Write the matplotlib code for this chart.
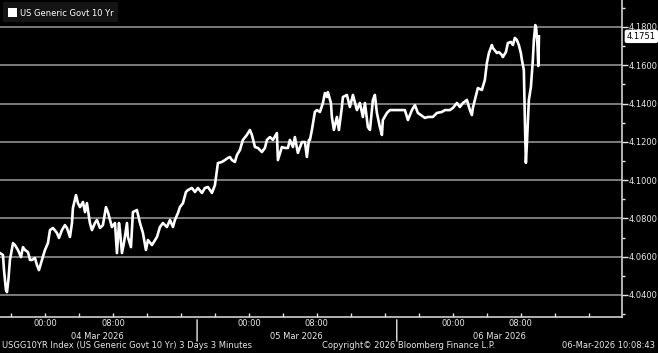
import matplotlib.pyplot as plt
import numpy as np

# hours from 04 Mar 2026 00:00, and yield (%)
hours = [-5.29, -4.94, -4.82, -4.59, -4.47, -4.30, -4.12, -3.76, -3.53, -3.18, -2.82, -2.59, -2.35,
         -2.00, -1.76, -1.53, -1.18, -0.94, -0.71, -0.35, 0.00, 0.35, 0.59, 0.94, 1.41, 1.65, 2.00,
         2.35, 2.59, 2.94, 3.18, 3.29, 3.65, 3.88, 4.12, 4.47, 4.71, 4.94, 5.29, 5.53, 5.88, 6.12,
         6.47, 6.82, 7.18, 7.41, 7.88, 8.24, 8.47, 8.71, 8.82, 9.06, 9.29, 9.65, 9.76, 10.12, 10.35,
         10.82, 11.18, 11.53, 11.88, 12.12, 12.59, 12.82, 13.18, 13.53, 13.88, 14.35, 14.71, 15.06,
         15.29, 15.65, 15.88, 16.24, 16.59, 16.82, 17.29, 17.65, 18.00, 18.47, 18.82, 19.18, 19.65,
         20.00, 20.24, 20.35, 20.82, 21.18, 21.53, 21.76, 22.00, 22.35, 22.59, 22.94, 23.29, 23.76,
         24.12, 24.35, 24.71, 25.06, 25.53, 25.88, 26.12, 26.47, 26.82, 27.29, 27.41, 27.88, 28.24,
         28.59, 28.82, 29.18, 29.41, 29.76, 30.24, 30.59, 30.82, 31.06, 31.18, 31.41, 31.76, 32.00,
         32.35, 32.71, 32.94, 33.18, 33.29, 33.65, 33.76, 34.00, 34.35, 34.59, 34.94, 35.06, 35.53,
         35.88, 36.24, 36.71, 37.06, 37.41, 37.65, 38.00, 38.24, 38.59, 38.82, 39.06, 39.41, 39.65,
         39.76, 40.24, 40.59, 40.94, 41.76, 42.35, 42.71, 43.18, 43.53, 43.88, 44.71, 45.06, 45.65,
         46.12, 46.71, 47.06, 47.65, 48.00, 48.47, 48.82, 49.18, 49.65, 50.00, 50.24, 50.35, 50.59,
         50.94, 51.41, 51.76, 52.00, 52.24, 52.59, 52.71, 53.18, 53.41, 53.76, 53.88, 54.24, 54.47,
         54.82, 55.06, 55.29, 55.53, 55.76, 56.00, 56.12, 56.35, 56.47, 56.59, 56.71, 56.94, 57.18,
         57.41, 57.53, 57.70, 57.80, 57.95, 58.05, 58.13]
yld = [4.0619, 4.0609, 4.0530, 4.0426, 4.0415, 4.0480, 4.0583, 4.0671, 4.0661, 4.0635, 4.0598, 4.0650, 4.0635,
       4.0624, 4.0583, 4.0583, 4.0593, 4.0556, 4.0530, 4.0583, 4.0635, 4.0671, 4.0739, 4.0750, 4.0724, 4.0698, 4.0739,
       4.0765, 4.0750, 4.0703, 4.0776, 4.0854, 4.0922, 4.0880, 4.0859, 4.0886, 4.0833, 4.0880, 4.0776, 4.0739, 4.0776, 4.0792,
       4.0750, 4.0765, 4.0859, 4.0833, 4.0755, 4.0776, 4.0619, 4.0776, 4.0739, 4.0619, 4.0671, 4.0776, 4.0703, 4.0650, 4.0833,
       4.0844, 4.0776, 4.0724, 4.0635, 4.0687, 4.0661, 4.0677, 4.0703, 4.0755, 4.0776, 4.0755, 4.0792, 4.0755,
       4.0792, 4.0828, 4.0859, 4.0880, 4.0938, 4.0948, 4.0959, 4.0938, 4.0959, 4.0933, 4.0959, 4.0964, 4.0933,
       4.0974, 4.1053, 4.1089, 4.1095, 4.1105, 4.1116, 4.1121, 4.1105, 4.1095, 4.1131, 4.1157, 4.1210, 4.1236,
       4.1262, 4.1236, 4.1173, 4.1168, 4.1147, 4.1168, 4.1210, 4.1225, 4.1210, 4.1246, 4.1105, 4.1173, 4.1168,
       4.1168, 4.1210, 4.1173, 4.1225, 4.1142, 4.1199, 4.1199, 4.1121, 4.1210, 4.1210, 4.1262, 4.1356, 4.1366,
       4.1356, 4.1403, 4.1455, 4.1434, 4.1460, 4.1403, 4.1330, 4.1262, 4.1330, 4.1262, 4.1382, 4.1434, 4.1445,
       4.1382, 4.1445, 4.1366, 4.1403, 4.1330, 4.1403, 4.1277, 4.1262, 4.1419, 4.1445, 4.1351, 4.1277, 4.1236,
       4.1314, 4.1351, 4.1366, 4.1366, 4.1366, 4.1366, 4.1314, 4.1366, 4.1392, 4.1351, 4.1325, 4.1330, 4.1330,
       4.1351, 4.1356, 4.1366, 4.1366, 4.1377, 4.1403, 4.1382, 4.1403, 4.1419, 4.1366, 4.1340, 4.1377, 4.1419,
       4.1481, 4.1471, 4.1523, 4.1612, 4.1664, 4.1706, 4.1690, 4.1664, 4.1669, 4.1654, 4.1643, 4.1669, 4.1716,
       4.1722, 4.1706, 4.1743, 4.1732, 4.1706, 4.1664, 4.1628, 4.1575, 4.1314, 4.1090, 4.1190, 4.1419, 4.1486,
       4.1628, 4.1732, 4.1810, 4.1795, 4.1706, 4.1596, 4.1751]

yticks = [4.04, 4.06, 4.08, 4.10, 4.12, 4.14, 4.16, 4.18]
time_ticks = [0, 8, 24, 32, 48, 56]
time_labels = ["00:00", "08:00", "00:00", "08:00", "00:00", "08:00"]
day_labels = ["04 Mar 2026", "05 Mar 2026", "06 Mar 2026"]
day_pos = [6.2, 29.6, 53.5]
day_breaks = [17.9, 41.4]
last_val = 4.1751

W, H = 658, 353
fg = "#e8e8e8"
fs = 6.0

fig = plt.figure(figsize=(W / 100, H / 100), dpi=100, facecolor="black")
ax = fig.add_axes([0, 1 - 317 / H, 622 / W, 317 / H])
ax.set_facecolor("black")

for v in yticks:
    ax.axhline(v, color="#858585", lw=1.3, zorder=1)
ax.plot(hours, yld, color="white", lw=1.9, zorder=3)

ax.set_xlim(-5.29, 67.9)
ax.set_ylim(4.0285, 4.1941)

ax.yaxis.tick_right()
ax.set_yticks(yticks)
ax.set_yticklabels(["%.4f" % v for v in yticks])
ax.set_yticks(np.arange(4.03, 4.195, 0.01), minor=True)
ax.tick_params(axis="y", which="major", colors=fg, length=4, width=1, labelsize=fs, pad=1)
ax.tick_params(axis="y", which="minor", colors=fg, length=2.5, width=1)

ax.set_xticks(time_ticks)
ax.set_xticklabels([])
ax.set_xticks(np.arange(-4, 68, 4), minor=True)
ax.tick_params(axis="x", which="both", direction="in", colors=fg, length=3, width=1)

for s in ["top", "left"]:
    ax.spines[s].set_visible(False)
for s in ["right", "bottom"]:
    ax.spines[s].set_color("#d0d0d0")
    ax.spines[s].set_linewidth(1.2)

# time labels and day labels below the axis
for t, lab in zip(time_ticks, time_labels):
    ax.annotate(lab, (t, 0), xycoords=("data", "axes fraction"), xytext=(0, -5),
                textcoords="offset points", ha="center", va="center", color=fg, fontsize=fs)
for t, lab in zip(day_pos, day_labels):
    ax.annotate(lab, (t, 0), xycoords=("data", "axes fraction"), xytext=(0, -14),
                textcoords="offset points", ha="center", va="center", color=fg, fontsize=fs)
for t in day_breaks:
    ax.annotate("", (t, 0), xycoords=("data", "axes fraction"), xytext=(t, -0.085),
                textcoords=("data", "axes fraction"),
                arrowprops=dict(arrowstyle="-", color=fg, lw=1))

# last value tag
ax.annotate("%.4f" % last_val, (1, last_val), xycoords=("axes fraction", "data"),
            xytext=(3.5, 0), textcoords="offset points", ha="left", va="center",
            color="black", fontsize=fs,
            bbox=dict(boxstyle="round,pad=0.18", fc="white", ec="white"))

# legend box
fig.patches.append(plt.Rectangle((3 / W, 1 - 22 / H), 115 / W, 20 / H, transform=fig.transFigure,
                                 fc="#141414", ec="none"))
fig.patches.append(plt.Rectangle((8 / W, 1 - 17 / H), 9 / W, 9 / H, transform=fig.transFigure,
                                 fc="white", ec="none"))
fig.text(20 / W, 1 - 13 / H, "US Generic Govt 10 Yr", color="white", fontsize=fs, va="center")

# footer
fig.text(2 / W, 1 - 346 / H, "USGG10YR Index (US Generic Govt 10 Yr) 3 Days 3 Minutes",
         color=fg, fontsize=fs, va="center")
fig.text(322 / W, 1 - 346 / H, "Copyright\u00a9 2026 Bloomberg Finance L.P.",
         color=fg, fontsize=fs, va="center")
fig.text(655 / W, 1 - 346 / H, "06-Mar-2026 10:08:43", color=fg, fontsize=fs,
         va="center", ha="right")

fig.savefig("out.png", dpi=100, facecolor="black")
